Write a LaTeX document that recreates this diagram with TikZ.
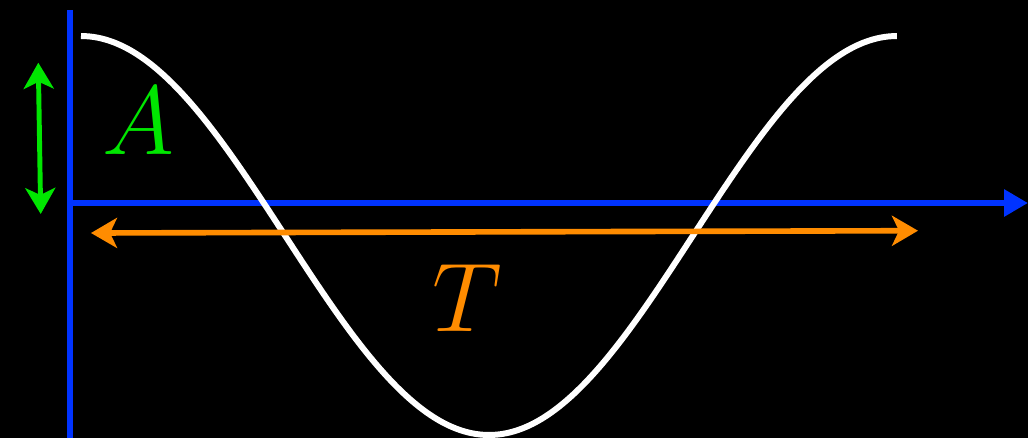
\documentclass[tikz,border=0pt]{standalone}
\usetikzlibrary{arrows.meta}
\definecolor{axisblue}{RGB}{0,51,255}
\definecolor{ampgreen}{RGB}{0,230,0}
\definecolor{perorange}{RGB}{255,140,0}
\begin{document}
\begin{tikzpicture}[line join=round,font=\Huge,
	axis/.style={axisblue,line width=1.7pt},
	lbl/.style={anchor=base,scale=1.12},
	dbl/.style={line width=#1,{Stealth[length=0.26cm,width=0.3cm,inset=0.07cm]}-{Stealth[length=0.26cm,width=0.3cm,inset=0.07cm]}}]
	\fill[black] (0,0) rectangle (10.28,4.38);
	\useasboundingbox (0,0) rectangle (10.28,4.38);
	\coordinate (o) at (0.70,2.35);
	\coordinate (ytop) at (0.70,4.28);
	\coordinate (ybot) at (0.70,0);
	\coordinate (xend) at (10.28,2.35);
	\draw[axis] (ybot)--(ytop);
	\draw[axis,-{Triangle[length=0.24cm,width=0.26cm]}] (o)--(xend);
	\draw[white,line width=1.7pt,smooth,samples=100,domain=0.81:8.97] plot(\x,{2.025+1.995*cos(360*(\x-0.81)/8.16)});
	% amplitude and period
	\coordinate (atop) at (0.383,3.753);
	\coordinate (abot) at (0.407,2.24);
	\coordinate (tleft) at (0.91,2.05);
	\coordinate (tright) at (9.18,2.073);
	\draw[ampgreen,dbl=1.4pt] (atop)--(abot);
	\draw[perorange,dbl=1.6pt] (tleft)--(tright);
	\node[ampgreen,lbl] (amp) at (1.38,2.84) {$A$};
	\node[perorange,lbl] (per) at (4.67,1.07) {$T$};
\end{tikzpicture}
\end{document}
